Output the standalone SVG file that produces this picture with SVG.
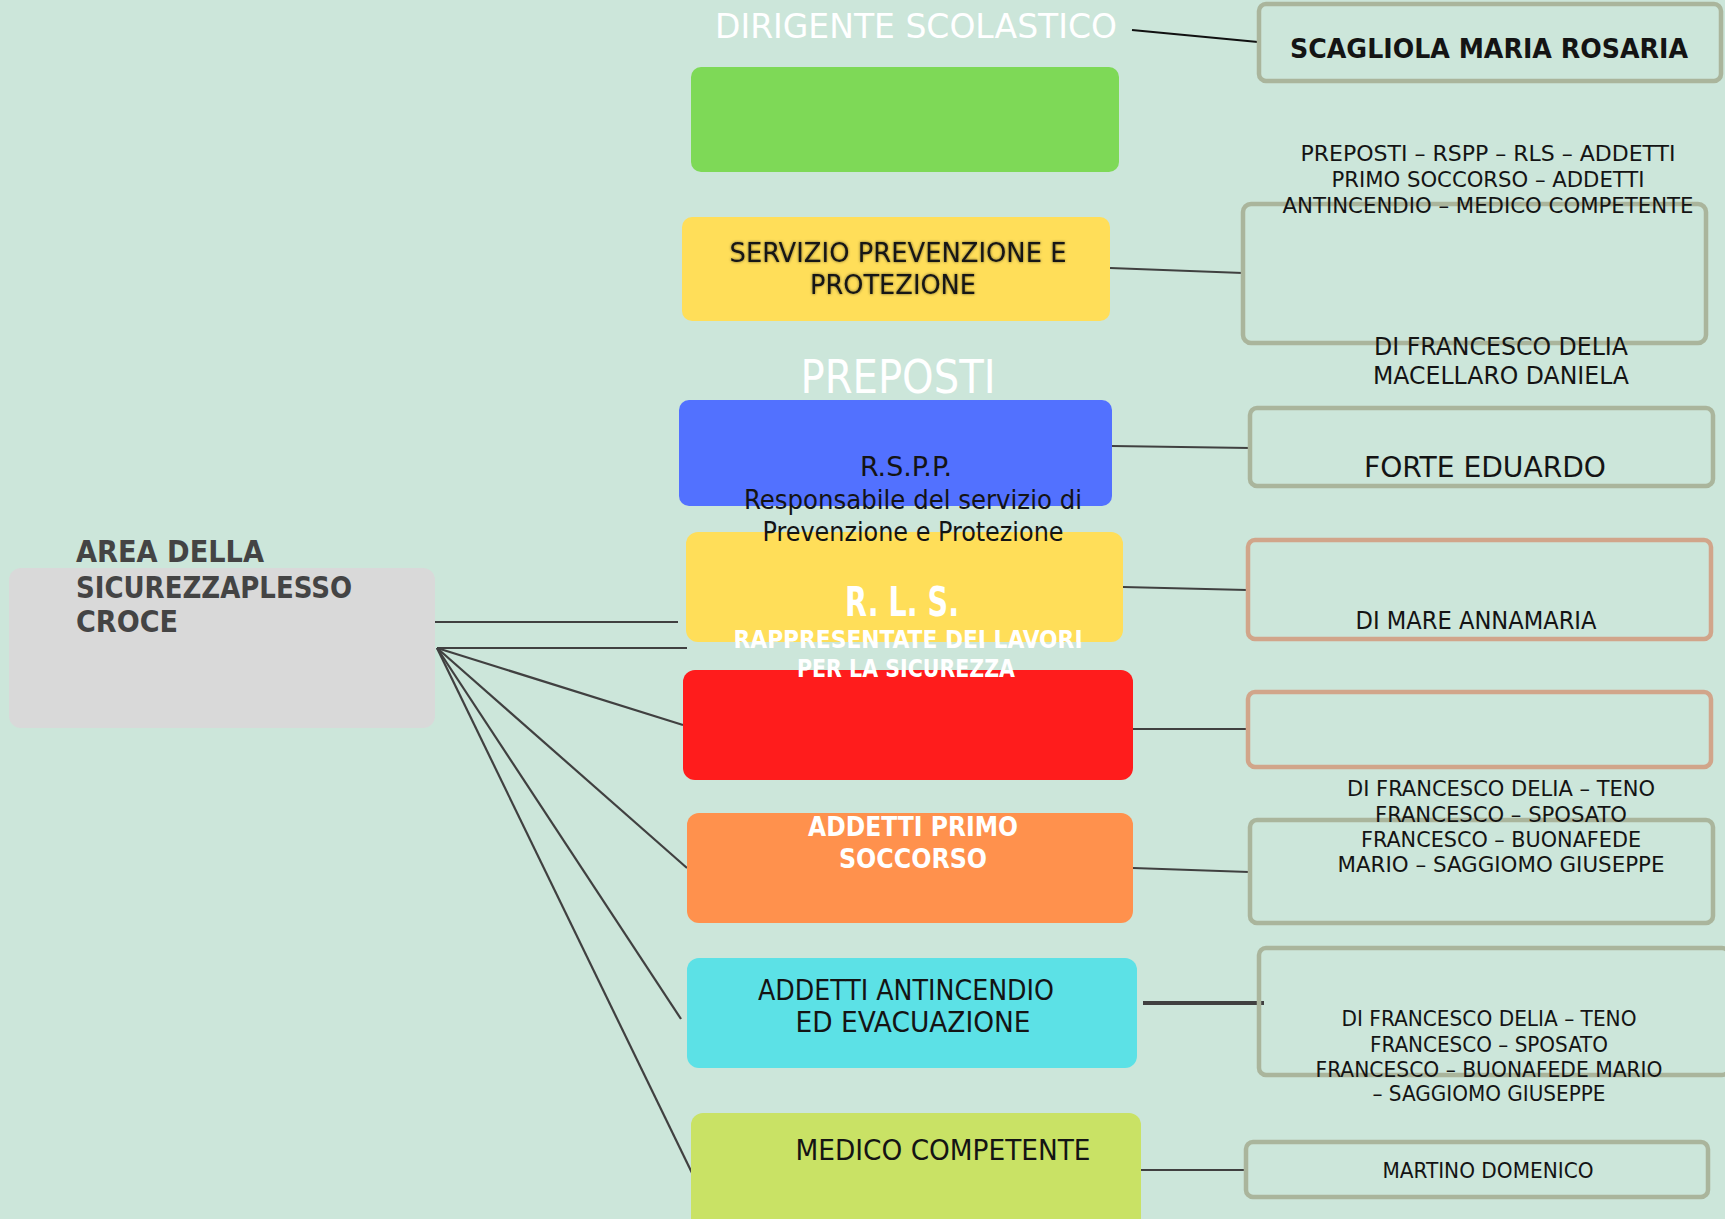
<svg xmlns="http://www.w3.org/2000/svg" width="1725" height="1219" viewBox="0 0 1725 1219">
<defs>
<style>
.t{font-family:"Liberation Sans Narrow","DejaVu Sans Condensed","Liberation Sans",sans-serif;}
.w{fill:#ffffff;}
.d{fill:#141414;}
.b{font-weight:bold;}
.ob{fill:none;stroke:#aab59c;stroke-width:4.5;}
.sb{fill:none;stroke:#d1a58a;stroke-width:4.5;}
.c{stroke:#404040;stroke-width:2.2;fill:none;}
</style>
<filter id="sh" x="-10%" y="-30%" width="120%" height="160%">
<feDropShadow dx="0" dy="0" stdDeviation="1.6" flood-color="#000" flood-opacity="0.55"/>
</filter>
</defs>
<rect x="0" y="0" width="1725" height="1219" fill="#cce6da"/>

<g id="connectors">
<line x1="1132" y1="30" x2="1258" y2="42" stroke="#111" stroke-width="2.2"/>
<line class="c" x1="1110" y1="268" x2="1243" y2="273"/>
<line class="c" x1="1112" y1="446" x2="1250" y2="448"/>
<line class="c" x1="1123" y1="587" x2="1247" y2="590"/>
<line class="c" x1="1133" y1="729" x2="1247" y2="729"/>
<line class="c" x1="1133" y1="868" x2="1249" y2="872"/>
<line x1="1143" y1="1003" x2="1264" y2="1003" stroke="#404040" stroke-width="4"/>
<line class="c" x1="1136" y1="1170" x2="1244" y2="1170"/>
<line class="c" x1="435" y1="622" x2="678" y2="622"/>
<line class="c" x1="437" y1="648" x2="687" y2="648"/>
<line class="c" x1="437" y1="648" x2="683" y2="725"/>
<line class="c" x1="437" y1="648" x2="687" y2="868"/>
<line class="c" x1="437" y1="648" x2="681" y2="1019"/>
<line class="c" x1="437" y1="648" x2="693" y2="1175"/>
</g>

<g id="area">
<rect x="9" y="568" width="426" height="160" rx="12" fill="#d9d9d9"/>
<text class="t b" fill="#444444" font-size="30"><tspan x="76" y="562" textLength="188" lengthAdjust="spacingAndGlyphs">AREA DELLA</tspan><tspan x="76" y="598" textLength="276" lengthAdjust="spacingAndGlyphs">SICUREZZAPLESSO</tspan><tspan x="76" y="632" textLength="102" lengthAdjust="spacingAndGlyphs">CROCE</tspan></text>
</g>

<g id="dirigente">
<text class="t w" x="916" y="38" font-size="34" text-anchor="middle" textLength="402" lengthAdjust="spacingAndGlyphs">DIRIGENTE SCOLASTICO</text>
<rect x="691" y="67" width="428" height="105" rx="10" fill="#7ed957"/>
</g>

<g id="scagliola">
<rect class="ob" x="1259" y="4" width="462" height="77" rx="7"/>
<text class="t b d" x="1489" y="58" font-size="26" text-anchor="middle" textLength="398" lengthAdjust="spacingAndGlyphs">SCAGLIOLA MARIA ROSARIA</text>
</g>

<g id="spp">
<rect x="682" y="217" width="428" height="104" rx="10" fill="#ffde59"/>
<text class="t d" font-size="27" text-anchor="middle" filter="url(#sh)"><tspan x="898" y="262" textLength="337" lengthAdjust="spacingAndGlyphs">SERVIZIO PREVENZIONE E</tspan><tspan x="893" y="294" textLength="166" lengthAdjust="spacingAndGlyphs">PROTEZIONE</tspan></text>
</g>

<g id="spp-members">
<rect class="ob" x="1243" y="204" width="463" height="139" rx="8"/>
<text class="t d" font-size="21" text-anchor="middle"><tspan x="1488" y="161" textLength="375" lengthAdjust="spacingAndGlyphs">PREPOSTI – RSPP – RLS – ADDETTI</tspan><tspan x="1488" y="187" textLength="313" lengthAdjust="spacingAndGlyphs">PRIMO SOCCORSO – ADDETTI</tspan><tspan x="1488" y="213" textLength="411" lengthAdjust="spacingAndGlyphs">ANTINCENDIO – MEDICO COMPETENTE</tspan></text>
</g>

<g id="preposti">
<text class="t w" x="898" y="393" font-size="46" text-anchor="middle" textLength="195" lengthAdjust="spacingAndGlyphs">PREPOSTI</text>
<text class="t d" font-size="24" text-anchor="middle"><tspan x="1501" y="355" textLength="254" lengthAdjust="spacingAndGlyphs">DI FRANCESCO DELIA</tspan><tspan x="1501" y="384" textLength="256" lengthAdjust="spacingAndGlyphs">MACELLARO DANIELA</tspan></text>
</g>

<g id="red">
<rect x="683" y="670" width="450" height="110" rx="12" fill="#ff1c1c"/>
</g>

<g id="rls">
<rect x="686" y="532" width="437" height="110" rx="12" fill="#ffde59"/>
<text class="t w b" x="902" y="616" font-size="40" text-anchor="middle" textLength="114" lengthAdjust="spacingAndGlyphs">R. L. S.</text>
<text class="t w b" font-size="24" text-anchor="middle"><tspan x="908" y="648" textLength="349" lengthAdjust="spacingAndGlyphs">RAPPRESENTATE DEI LAVORI</tspan><tspan x="906" y="677" textLength="218" lengthAdjust="spacingAndGlyphs">PER LA SICUREZZA</tspan></text>
</g>

<g id="rspp">
<rect x="679" y="400" width="433" height="106" rx="10" fill="#5271ff"/>
<text class="t d" font-size="26" text-anchor="middle"><tspan x="906" y="476" textLength="92" lengthAdjust="spacingAndGlyphs">R.S.P.P.</tspan><tspan x="913" y="509" textLength="338" lengthAdjust="spacingAndGlyphs">Responsabile del servizio di</tspan><tspan x="913" y="541" textLength="301" lengthAdjust="spacingAndGlyphs">Prevenzione e Protezione</tspan></text>
</g>

<g id="forte">
<rect class="ob" x="1250" y="408" width="463" height="78" rx="7"/>
<text class="t d" x="1485" y="477" font-size="29" text-anchor="middle" textLength="242" lengthAdjust="spacingAndGlyphs">FORTE EDUARDO</text>
</g>

<g id="dimare">
<rect class="sb" x="1248" y="540" width="463" height="99" rx="7"/>
<text class="t d" x="1476" y="629" font-size="25" text-anchor="middle" textLength="241" lengthAdjust="spacingAndGlyphs">DI MARE ANNAMARIA</text>
</g>

<g id="red-empty">
<rect class="sb" x="1248" y="692" width="463" height="75" rx="7"/>
</g>

<g id="primo-soccorso">
<rect x="687" y="813" width="446" height="110" rx="12" fill="#ff914d"/>
<text class="t w b" font-size="27" text-anchor="middle"><tspan x="913" y="836" textLength="210" lengthAdjust="spacingAndGlyphs">ADDETTI PRIMO</tspan><tspan x="913" y="868" textLength="148" lengthAdjust="spacingAndGlyphs">SOCCORSO</tspan></text>
</g>

<g id="primo-soccorso-members">
<rect class="ob" x="1250" y="820" width="463" height="103" rx="7"/>
<text class="t d" font-size="22" text-anchor="middle"><tspan x="1501" y="796" textLength="308" lengthAdjust="spacingAndGlyphs">DI FRANCESCO DELIA – TENO</tspan><tspan x="1501" y="822" textLength="252" lengthAdjust="spacingAndGlyphs">FRANCESCO – SPOSATO</tspan><tspan x="1501" y="847" textLength="280" lengthAdjust="spacingAndGlyphs">FRANCESCO – BUONAFEDE</tspan><tspan x="1501" y="872" textLength="327" lengthAdjust="spacingAndGlyphs">MARIO – SAGGIOMO GIUSEPPE</tspan></text>
</g>

<g id="antincendio">
<rect x="687" y="958" width="450" height="110" rx="12" fill="#5ce1e6"/>
<text class="t d" font-size="28" text-anchor="middle"><tspan x="906" y="1000" textLength="296" lengthAdjust="spacingAndGlyphs">ADDETTI ANTINCENDIO</tspan><tspan x="913" y="1032" textLength="235" lengthAdjust="spacingAndGlyphs">ED EVACUAZIONE</tspan></text>
</g>

<g id="antincendio-members">
<rect class="ob" x="1259" y="948" width="470" height="127" rx="7"/>
<text class="t d" font-size="22" text-anchor="middle"><tspan x="1489" y="1026" textLength="295" lengthAdjust="spacingAndGlyphs">DI FRANCESCO DELIA – TENO</tspan><tspan x="1489" y="1052" textLength="238" lengthAdjust="spacingAndGlyphs">FRANCESCO – SPOSATO</tspan><tspan x="1489" y="1077" textLength="347" lengthAdjust="spacingAndGlyphs">FRANCESCO – BUONAFEDE MARIO</tspan><tspan x="1489" y="1101" textLength="233" lengthAdjust="spacingAndGlyphs">– SAGGIOMO GIUSEPPE</tspan></text>
</g>

<g id="medico">
<rect x="691" y="1113" width="450" height="120" rx="12" fill="#c9e265"/>
<text class="t d" x="943" y="1160" font-size="28" text-anchor="middle" textLength="295" lengthAdjust="spacingAndGlyphs">MEDICO COMPETENTE</text>
</g>

<g id="martino">
<rect class="ob" x="1246" y="1142" width="462" height="55" rx="7"/>
<text class="t d" x="1488" y="1178" font-size="22" text-anchor="middle" textLength="211" lengthAdjust="spacingAndGlyphs">MARTINO DOMENICO</text>
</g>
</svg>
